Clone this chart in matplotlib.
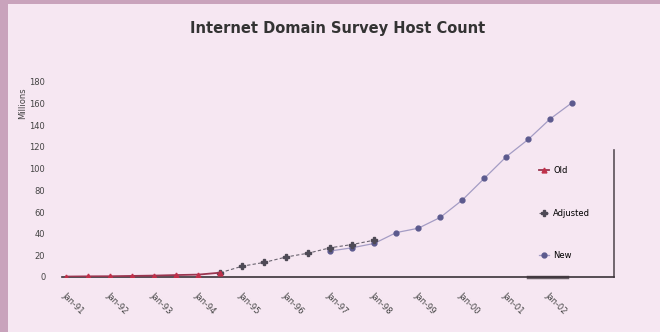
import matplotlib.pyplot as plt
from matplotlib.patches import Rectangle
import numpy as np

# survey dates (half-yearly)
periods = ["Jan-91", "Jul-91", "Jan-92", "Jul-92", "Jan-93", "Jul-93",
           "Jan-94", "Jul-94", "Jan-95", "Jul-95", "Jan-96", "Jul-96",
           "Jan-97", "Jul-97", "Jan-98", "Jul-98", "Jan-99", "Jul-99",
           "Jan-00", "Jul-00", "Jan-01", "Jul-01", "Jan-02", "Jul-02"]

# host counts in millions
old_start = 0
old_vals = [0.4, 0.6, 0.7, 1.0, 1.3, 1.8, 2.2, 4.0]
adj_start = 7
adj_vals = [4.0, 10, 13.5, 18.5, 22, 27, 30, 34]
new_start = 12
new_vals = [24, 27, 31, 41, 45, 55, 71, 91, 111, 127, 146, 161]

yticks = [0, 20, 40, 60, 80, 100, 120, 140, 160, 180]

W, H = 660, 332
fig = plt.figure(figsize=(W / 100, H / 100), dpi=100)
fig.patch.set_facecolor('#c9a3bc')
fig.add_artist(Rectangle((8 / W, 0), 1, (H - 4) / H, transform=fig.transFigure,
                         facecolor='#f6e7f2', edgecolor='none', zorder=0))

ax = fig.add_axes([62 / W, (H - 277) / H, (614 - 62) / W, (277 - 82) / H])
ax.set_facecolor('none')

x_old = np.arange(old_start, old_start + len(old_vals))
x_adj = np.arange(adj_start, adj_start + len(adj_vals))
x_new = np.arange(new_start, new_start + len(new_vals))

ax.plot(x_new, new_vals, color='#a49cc4', lw=0.9, marker='o', ms=3.5,
        mfc='#5c5a8e', mec='#5c5a8e', label='New', zorder=3)
ax.plot(x_adj, adj_vals, color='#6a6470', lw=0.8, ls=(0, (3, 2)), marker='P',
        ms=4, mfc='#4e4a56', mec='#4e4a56', label='Adjusted', zorder=4)
ax.plot(x_old, old_vals, color='#9a3550', lw=1.3, marker='^', ms=3.5,
        mfc='#c0304a', mec='#c0304a', label='Old', zorder=5)

ax.set_xlim(-0.2, 24.9)
ax.set_ylim(0, 180)

for s in ['top', 'right', 'left']:
    ax.spines[s].set_visible(False)
ax.spines['bottom'].set_color('#3a3238')
ax.spines['bottom'].set_linewidth(1.2)

# edge of the legend box that shows on the right
ax.plot([1.0, 1.0], [0, (277 - 150) / 195], transform=ax.transAxes,
        color='#5a5058', lw=1.2, clip_on=False)
ax.plot([0.845, 0.915], [0, 0], transform=ax.transAxes,
        color='#6a6068', lw=2.5, clip_on=False)

ax.set_yticks(yticks)
ax.set_yticklabels([str(v) for v in yticks])
ax.tick_params(axis='y', length=0, pad=12, labelsize=6, labelcolor='#444')

ax.set_xticks(np.arange(0, len(periods), 2))
ax.set_xticklabels(periods[::2], rotation=-45, ha='left', va='top',
                   rotation_mode='anchor')
ax.tick_params(axis='x', length=0, pad=10, labelsize=6, labelcolor='#444')

fig.text(23 / W, 1 - 103 / H, 'Millions', rotation=90, ha='center',
         va='center', fontsize=6, color='#444')
fig.text(338 / W, 1 - 28 / H, 'Internet Domain Survey Host Count',
         ha='center', va='center', fontsize=10.5, fontweight='bold',
         color='#333')

handles, labels = ax.get_legend_handles_labels()
ax.legend(handles[::-1], labels[::-1], loc='upper left',
          bbox_to_anchor=(535 / W, 1 - 162 / H), bbox_transform=fig.transFigure,
          frameon=False, fontsize=6, labelspacing=4.0, handlelength=1.2,
          handletextpad=0.5, borderpad=0)

plt.savefig('out.png', dpi=100)
